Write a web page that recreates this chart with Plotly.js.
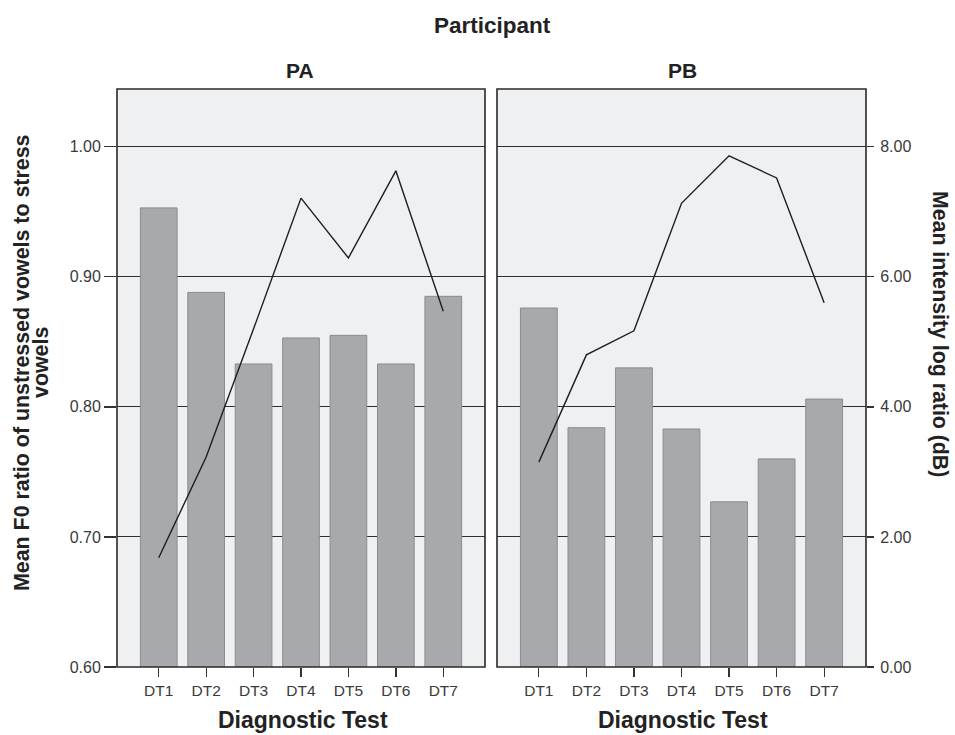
<!DOCTYPE html>
<html>
<head>
<meta charset="utf-8">
<script src="https://cdn.plot.ly/plotly-3.0.1.min.js"></script>
<style>html,body{margin:0;padding:0;background:#fff;}#chart{width:955px;height:735px;}</style>
</head>
<body>
<div id="chart"></div>
<script>
const categories = ["DT1","DT2","DT3","DT4","DT5","DT6","DT7"];
const panels = ["PA","PB"];
const f0PA = [0.953, 0.888, 0.833, 0.853, 0.855, 0.833, 0.885];
const f0PB = [0.876, 0.784, 0.830, 0.783, 0.727, 0.760, 0.806];
const intensityPA = [1.68, 3.23, 5.20, 7.21, 6.29, 7.63, 5.47];
const intensityPB = [3.15, 4.80, 5.17, 7.13, 7.86, 7.52, 5.60];
const leftTicks = [0.60, 0.70, 0.80, 0.90, 1.00];
const rightTicks = [0, 2, 4, 6, 8];

const barStyle = {color:'#a8a9ad', line:{color:'#8b8c90', width:1}};
const lineStyle = {color:'#1e1e1e', width:1.4};

const traces = [
  {type:'bar', x:categories, y:f0PA, xaxis:'x', yaxis:'y', marker:barStyle, hoverinfo:'skip'},
  {type:'bar', x:categories, y:f0PB, xaxis:'x2', yaxis:'y', marker:barStyle, hoverinfo:'skip'},
  {type:'scatter', mode:'lines', x:categories, y:intensityPA, xaxis:'x', yaxis:'y2', line:lineStyle, hoverinfo:'skip'},
  {type:'scatter', mode:'lines', x:categories, y:intensityPB, xaxis:'x2', yaxis:'y3', line:lineStyle, hoverinfo:'skip'}
];

const W = 955, H = 735, L = 117, R = 89, T = 89, B = 68;
const pw = W - L - R, ph = H - T - B;
const px = v => (v - L) / pw;
const py = v => (H - B - v) / ph;

const FONT = 'Liberation Sans, Arial, sans-serif';
const xTickFont = {family:FONT, size:15.5, color:'#3a3a3a'};
const yTickFont = {family:FONT, size:16, color:'#3a3a3a'};
const xCommon = {
  type:'category', range:[-0.88, 6.88], showgrid:false, zeroline:false,
  ticks:'outside', ticklen:9, tickwidth:1.3, tickcolor:'#333', tickfont:xTickFont,
  ticklabelstandoff:0, showline:false, fixedrange:true
};
const yRange = [0.6, 1.0444];

function ann(text, x, y, size, angle) {
  return {text:'<b>'+text+'</b>', xref:'paper', yref:'paper', x:px(x), y:py(y),
    xanchor:'center', yanchor:'middle', showarrow:false, textangle:angle||0,
    font:{family:FONT, size:size, color:'#222'}};
}

const layout = {
  width:W, height:H,
  margin:{l:L, r:R, t:T, b:B, pad:0},
  paper_bgcolor:'#ffffff',
  plot_bgcolor:'#eff0f2',
  showlegend:false,
  bargap:0.226,
  xaxis: Object.assign({}, xCommon, {domain:[0, px(485)], anchor:'y'}),
  xaxis2: Object.assign({}, xCommon, {domain:[px(497), 1], anchor:'y'}),
  yaxis: {
    range:yRange, domain:[0,1], anchor:'x', side:'left',
    tickvals:leftTicks, ticktext:leftTicks.map(v=>v.toFixed(2)),
    ticks:'outside', ticklen:12, tickwidth:1.3, tickcolor:'#333', tickfont:yTickFont,
    showgrid:true, gridcolor:'#2e2e2e', gridwidth:1.1, zeroline:false, showline:false, fixedrange:true
  },
  yaxis2: {range:[0, 8.888], overlaying:'y', anchor:'x', visible:false, fixedrange:true},
  yaxis3: {
    range:[0, 8.888], overlaying:'y', anchor:'x2', side:'right',
    tickvals:rightTicks, ticktext:rightTicks.map(v=>v.toFixed(2)),
    ticks:'outside', ticklen:7, tickwidth:1.3, tickcolor:'#333', tickfont:yTickFont,
    ticklabelstandoff:3,
    showgrid:false, zeroline:false, showline:false, fixedrange:true
  },
  shapes: [
    {type:'rect', xref:'paper', yref:'paper', x0:0, x1:px(485), y0:0, y1:1, line:{color:'#2a2a2a', width:1.6}, layer:'above'},
    {type:'rect', xref:'paper', yref:'paper', x0:px(497), x1:1, y0:0, y1:1, line:{color:'#2a2a2a', width:1.6}, layer:'above'}
  ],
  annotations: [
    ann('Participant', 492, 25, 22.5),
    ann(panels[0], 300, 71, 21),
    ann(panels[1], 682, 71, 21),
    ann('Diagnostic Test', 303, 720, 23),
    ann('Diagnostic Test', 683, 720, 23),
    ann('Mean F0 ratio of unstressed vowels to stress', 22, 363, 21.4, -90),
    ann('vowels', 41, 363, 21.4, -90),
    ann('Mean intensity log ratio (dB)', 940, 334, 21.3, 90)
  ]
};

Plotly.newPlot('chart', traces, layout, {displayModeBar:false, staticPlot:true});
</script>
</body>
</html>
